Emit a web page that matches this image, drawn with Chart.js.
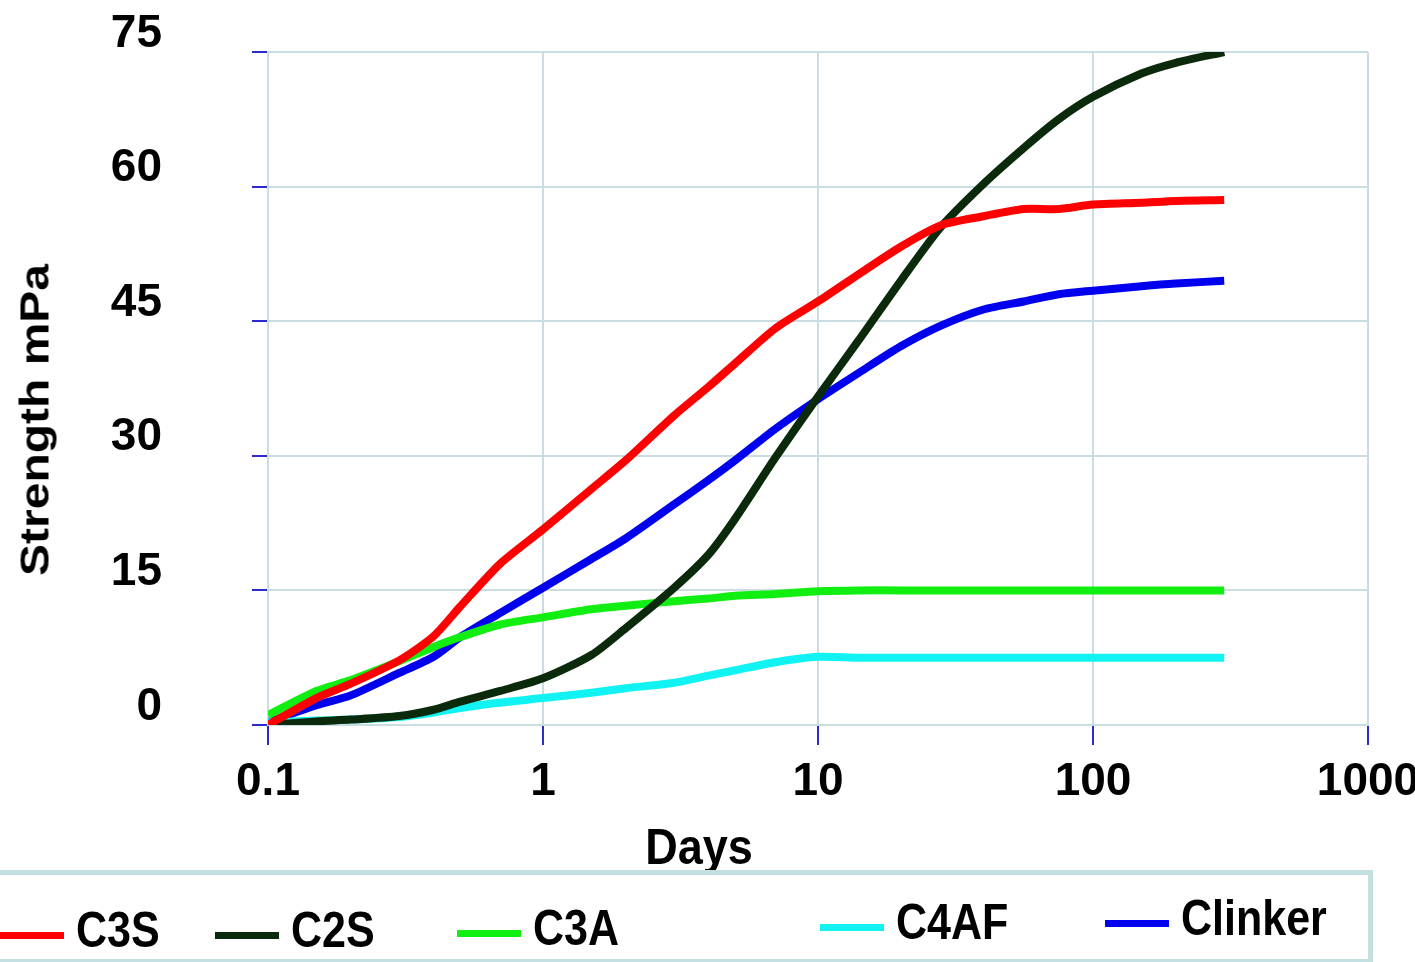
<!DOCTYPE html>
<html>
<head>
<meta charset="utf-8">
<script src="https://cdn.jsdelivr.net/npm/chart.js@4.4.1/dist/chart.umd.min.js"></script>
<style>
  body { margin: 0; background: #fff; }
  #wrap { position: relative; width: 1415px; height: 962px; overflow: hidden; }
  .narrow { font-family: 'Liberation Sans', Arial, sans-serif; font-weight: bold; color: #000; }
  #ytitle { position: absolute; left: 35px; top: 420px; font-family: 'Liberation Sans', Arial, sans-serif; font-weight: bold;
            font-size: 40px; white-space: nowrap; transform: translate(-50%, -50%) rotate(-90deg) scaleX(1.2); }
  #xtitle { position: absolute; left: 699px; top: 847px; font-size: 50px; white-space: nowrap; transform: translate(-50%, -50%) scaleX(0.9); }
  #legend { position: absolute; left: -10px; top: 870px; width: 1373px; height: 84px; border: 5px solid #c3dfe0; }
  .item { position: absolute; font-size: 50px; white-space: nowrap; line-height: 1; }
  .item span { display: inline-block; width: 64px; height: 7px; margin-right: 12px; vertical-align: 8px; }
  .item b { display: inline-block; font-weight: bold; transform: scaleX(0.86); transform-origin: left center; }
</style>
</head>
<body>
<div id="wrap">
  <canvas id="chart"></canvas>
  <div id="ytitle">Strength mPa</div>
  <div id="xtitle" class="narrow">Days</div>
  <div id="legend"></div>
</div>
<script>
const DAYS = [0.1, 0.15, 0.2, 0.3, 0.4, 0.5, 0.7, 1, 1.5, 2, 3, 4, 5, 7, 10, 14, 20, 28, 40, 56, 75, 100, 150, 200, 300];
const C3S = [0, 3.0, 4.6, 7.2, 9.9, 13.2, 18.0, 21.8, 26.3, 29.5, 34.5, 37.7, 40.3, 44.2, 47.2, 50.2, 53.3, 55.7, 56.7, 57.5, 57.5, 58.0, 58.2, 58.4, 58.5];
const C2S = [0, 0.4, 0.6, 1.0, 1.7, 2.6, 3.8, 5.2, 7.8, 10.8, 15.3, 19.0, 23.0, 29.8, 36.6, 42.8, 49.5, 55.5, 60.3, 64.3, 67.5, 70.0, 72.6, 73.8, 75.0];
const C3A = [1.1, 3.8, 5.0, 7.1, 8.7, 9.8, 11.2, 12.0, 12.9, 13.3, 13.8, 14.1, 14.4, 14.6, 14.9, 15, 15, 15, 15, 15, 15, 15, 15, 15, 15];
const C4AF = [0.3, 0.5, 0.6, 0.9, 1.4, 1.9, 2.5, 3.0, 3.6, 4.1, 4.7, 5.5, 6.1, 7.0, 7.6, 7.5, 7.5, 7.5, 7.5, 7.5, 7.5, 7.5, 7.5, 7.5, 7.5];
const CLINKER = [0.3, 2.2, 3.3, 5.8, 7.6, 9.8, 12.5, 15.3, 18.5, 20.8, 24.6, 27.3, 29.5, 33.0, 36.3, 39.2, 42.2, 44.5, 46.3, 47.2, 48.0, 48.4, 48.9, 49.2, 49.5];

const LABELS = ['C3S', 'C2S', 'C3A', 'C4AF', 'Clinker'];
const COLORS = ['#ff0000', '#0b2a0b', '#11ee11', '#11f2f2', '#0000ee'];
const X_TICKS = [0.1, 1, 10, 100, 1000];
const Y_TICKS = [0, 15, 30, 45, 60, 75];

const series = [C3S, C2S, C3A, C4AF, CLINKER];
const gridColor = '#c9dde2';
const tickColor = '#2b2bd0';

new Chart(document.getElementById('chart'), {
  type: 'line',
  data: {
    datasets: series.map((vals, i) => ({
      label: LABELS[i],
      data: DAYS.map((d, j) => ({ x: d, y: vals[j] })),
      borderColor: COLORS[i],
      borderWidth: 8,
      pointRadius: 0,
      tension: 0.25,
      fill: false
    }))
  },
  options: {
    responsive: true,
    maintainAspectRatio: false,
    animation: false,
    plugins: { legend: { display: false }, tooltip: { enabled: false } },
    scales: {
      x: {
        type: 'logarithmic',
        min: 0.1,
        max: 1000,
        afterBuildTicks: s => { s.ticks = X_TICKS.map(v => ({ value: v })); },
        afterFit: s => { s.height = 237; s.paddingRight = 47; s.paddingLeft = 0; },
        ticks: {
          autoSkip: false,
          maxRotation: 0,
          padding: 10,
          color: '#000',
          font: { family: "'Liberation Sans', Arial", size: 46, weight: 'bold' },
          callback: v => String(v)
        },
        grid: { color: gridColor, lineWidth: 2, tickColor: tickColor, tickLength: 20 },
        border: { color: gridColor, width: 2 }
      },
      y: {
        min: 0,
        max: 75,
        afterBuildTicks: s => { s.ticks = Y_TICKS.map(v => ({ value: v })); },
        // keep the wide label gap from pushing the plot down
        afterFit: s => { s.width = 268; s.paddingTop = 52; s.paddingBottom = 0; },
        ticks: {
          padding: 90,
          labelOffset: -18,
          color: '#000',
          font: { family: "'Liberation Sans', Arial", size: 46, weight: 'bold' }
        },
        grid: { color: gridColor, lineWidth: 2, tickColor: tickColor, tickLength: 16 },
        border: { color: gridColor, width: 2 }
      }
    }
  }
});

// legend built from the series names and colours
const LEGEND_POS = [[0, 30], [215, 30], [457, 28], [820, 22], [1105, 18]];
const legend = document.getElementById('legend');
LABELS.forEach((name, i) => {
  const el = document.createElement('div');
  el.className = 'item narrow';
  el.style.left = (LEGEND_POS[i][0] + 5) + 'px';
  el.style.top = LEGEND_POS[i][1] + 'px';
  el.innerHTML = '<span style="background:' + COLORS[i] + '"></span><b>' + name + '</b>';
  legend.appendChild(el);
});
</script>
</body>
</html>
